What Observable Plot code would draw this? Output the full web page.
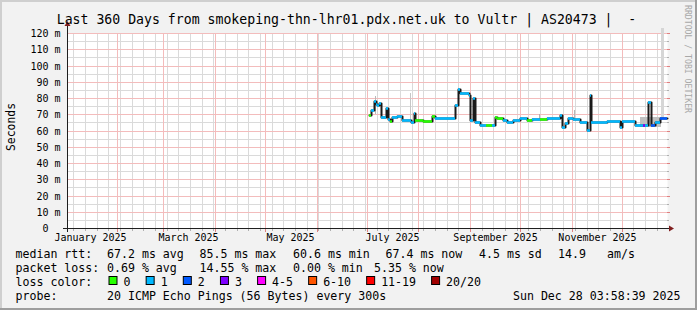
<!DOCTYPE html>
<html><head><meta charset="utf-8">
<script src="https://cdn.jsdelivr.net/npm/d3@7"></script>
<script src="https://cdn.jsdelivr.net/npm/@observablehq/plot@0.6"></script>
<style>
html,body{margin:0;padding:0;background:#f2f2f2;}
#chart svg{display:block;background:#f2f2f2;}
</style></head><body><div id="chart"></div>
<script>
// ---------- data ----------
const title = "Last 360 Days from smokeping-thn-lhr01.pdx.net.uk to Vultr | AS20473 |  -";
const yLabel = "Seconds";
const watermark = "RRDTOOL / TOBI OETIKER";
const timeStart = "2025-01-02T04:00:00Z";
const timeEnd = "2025-12-28T04:00:00Z";
const yTicks = [0,10,20,30,40,50,60,70,80,90,100,110,120];
const xLabelMonths = ["2025-01-16","2025-03-16","2025-05-16","2025-07-16","2025-09-16","2025-11-16"];
const xLabels = ["January 2025","March 2025","May 2025","July 2025","September 2025","November 2025"];

const medDates = [
 "2025-07-02T12:00Z","2025-07-03T18:00Z","2025-07-05T12:00Z","2025-07-06T12:00Z","2025-07-07T06:00Z",
 "2025-07-08T06:00Z","2025-07-09T12:00Z","2025-07-12T18:00Z","2025-07-13T12:00Z","2025-07-15T06:00Z",
 "2025-07-16T06:00Z","2025-07-19T06:00Z","2025-07-22T06:00Z","2025-07-27T12:00Z","2025-07-29T12:00Z",
 "2025-07-30T06:00Z","2025-08-04T00:00Z","2025-08-09T06:00Z","2025-08-11T06:00Z","2025-08-23T06:00Z",
 "2025-08-24T12:00Z","2025-08-25T18:00Z","2025-08-31T06:00Z","2025-09-01T06:00Z","2025-09-02T18:00Z",
 "2025-09-04T06:00Z","2025-09-07T06:00Z","2025-09-10T18:00Z","2025-09-14T06:00Z","2025-09-16T06:00Z",
 "2025-09-17T06:00Z","2025-09-21T00:00Z","2025-09-23T06:00Z","2025-09-27T00:00Z","2025-10-01T06:00Z",
 "2025-10-05T06:00Z","2025-10-08T06:00Z","2025-10-13T06:00Z","2025-10-17T06:00Z","2025-10-25T06:00Z",
 "2025-10-26T06:00Z","2025-10-28T06:00Z","2025-10-30T00:00Z","2025-11-02T00:00Z","2025-11-06T06:00Z",
 "2025-11-10T06:00Z","2025-11-11T18:00Z","2025-11-12T12:00Z","2025-11-22T06:00Z","2025-11-30T06:00Z",
 "2025-12-01T06:00Z","2025-12-09T06:00Z","2025-12-14T00:00Z","2025-12-15T06:00Z","2025-12-17T00:00Z",
 "2025-12-18T18:00Z","2025-12-21T06:00Z","2025-12-24T06:00Z","2025-12-28T04:00Z"];
const medValues = [
 69.6,72.7,78.0,76.4,75.8, 77.2,68.6,73.7,67.2,65.9, 68.6,69.0,66.5,65.5,71.0,
 66.5,65.9,69.0,67.6,76.0, 85.5,83.0,81.8,66.5,79.9, 65.0,63.5,63.5,63.6,68.6,
 67.6,66.5,65.5,66.5,67.6, 66.5,66.9,66.9,67.6,69.6, 62.4,64.5,67.6,66.9,65.5,
 60.6,81.9,65.5,65.9,62.4, 66.0,63.1,63.1,63.1,77.8, 63.6,65.0,67.6,67.4];
const medLoss = [
 0,1,1,1,1, 1,1,1,1,0, 1,1,1,1,1,
 0,0,0,1,1, 1,1,1,1,1, 1,1,0,1,0,
 0,1,1,1,1, 0,1,0,1,1, 1,1,1,1,1,
 1,1,1,1,1, 1,1,3,1,1, 2,1,2,2];

const lossLabels = ["0","1","2","3","4-5","6-10","11-19","20/20"];
const lossColors = ["#26ff00","#00b8ff","#0059ff","#7e00ff","#ff00ff","#ff5500","#ff0000","#a10000"];

const smokeStart = ["2025-07-05T18:00Z","2025-07-27T00:00Z","2025-10-12T06:00Z","2025-11-02T12:00Z","2025-12-12T00:00Z","2025-12-24T14:00Z"];
const smokeEnd   = ["2025-07-06T12:00Z","2025-07-27T18:00Z","2025-10-12T20:00Z","2025-11-03T06:00Z","2025-12-24T12:00Z","2025-12-26T05:00Z"];
const smokeLo = [70, 66, 67, 67, 62.2, 68];
const smokeHi = [81, 83.3, 70, 72.5, 68.5, 123];
const smokeShade = ["#b8b8b8","#c6c6c6","#b0b0b0","#b8b8b8","#c0c0c0","#d6d6d6"];

const rttHead = "median rtt:";
const rttStats = ["67.2 ms avg","85.5 ms max","60.6 ms min","67.4 ms now","4.5 ms sd","14.9","am/s"];
const lossHead = "packet loss:";
const lossStats = ["0.69 % avg","14.55 % max","0.00 % min","5.35 % now"];
const colorHead = "loss color:";
const probeHead = "probe:";
const probeText = "20 ICMP Echo Pings (56 Bytes) every 300s";
const stamp = "Sun Dec 28 03:58:39 2025";

// ---------- layout ----------
const W = 697, H = 310;
const FONT = "'DejaVu Sans Mono', monospace";
const rttX = [107, 199.5, 293, 385.5, 479, 558, 607];
const lossX = [107, 199.5, 293, 374];
const rowY = [258, 272, 286, 300];

// ---------- build ----------
const start = new Date(timeStart), end = new Date(timeEnd);
const med = medDates.map((d, i) => ({date: new Date(d), value: medValues[i], loss: medLoss[i]}));
const segs = med.slice(0, -1).map((d, i) => ({x1: d.date, x2: med[i + 1].date, y: d.value, color: lossColors[d.loss]}));
const smoke = smokeStart.map((d, i) => ({x1: new Date(d), x2: new Date(smokeEnd[i]), y1: smokeLo[i], y2: smokeHi[i], fill: smokeShade[i]}));

const months = d3.utcMonth.range(d3.utcMonth.ceil(start), end);
const weeks = d3.utcMonday.range(start, end).filter(d => d.getUTCDate() !== 1);
const yMinor = d3.range(5, 120, 10);
const yMajor = d3.range(10, 121, 10);
const labelDates = xLabelMonths.map(s => new Date(s + "T00:00:00Z"));
const labelMap = new Map(labelDates.map((d, i) => [+d, xLabels[i]]));

const MINOR = "#dadada", MAJOR = "#f3bcbc", MINOR_TICK = "#b0b0b0", MAJOR_TICK = "#e08080";

const chart = Plot.plot({
  width: W, height: H,
  marginLeft: 67, marginRight: 30, marginTop: 33, marginBottom: 82,
  x: {type: "utc", domain: [start, end], round: true, axis: null},
  y: {domain: [0, 120], round: true, axis: null},
  style: {background: "transparent", fontFamily: FONT, overflow: "visible", color: "#000"},
  marks: [
    Plot.frame({fill: "#ffffff", stroke: "none"}),
    Plot.rect(smoke, {x1: "x1", x2: "x2", y1: "y1", y2: "y2", fill: "fill"}),
    Plot.line(med, {x: "date", y: "value", curve: "step-after", stroke: "#1a1a1a", strokeWidth: 2}),
    Plot.ruleY(segs, {x1: "x1", x2: "x2", y: "y", stroke: "color", strokeWidth: 2.5}),
    Plot.axisY(yTicks, {anchor: "left", tickSize: 0, tickPadding: 7, fontSize: 10, fontFamily: FONT, fill: "#000",
      tickFormat: d => d === 0 ? "0\u00a0\u00a0" : `${d} m`}),
    Plot.axisX(labelDates, {anchor: "bottom", tickSize: 0, tickPadding: 5, fontSize: 10, fontFamily: FONT, fill: "#000",
      tickFormat: d => labelMap.get(+d)})
  ]
});

document.getElementById("chart").appendChild(chart);

const svg = d3.select(chart);
const xs = chart.scale("x"), ys = chart.scale("y");
const X = d => Math.round(xs.apply(d)), Y = v => Math.round(ys.apply(v));
const x0 = X(start), x1 = X(end);
const y0 = Y(0), yTop = Y(120);

// ---------- grid from the Plot scales, placed just above the canvas ----------
const gridNode = document.createElementNS("http://www.w3.org/2000/svg", "g");
const frameEl = chart.querySelector('[aria-label="frame"]');
if (frameEl && frameEl.parentNode === chart) chart.insertBefore(gridNode, frameEl.nextSibling);
else chart.insertBefore(gridNode, chart.firstChild);
const grid = d3.select(gridNode);
const vline = (d, color, ya, yb) => grid.append("line")
  .attr("x1", X(d) + 0.5).attr("x2", X(d) + 0.5).attr("y1", ya).attr("y2", yb).attr("stroke", color);
const hline = (v, color, xa, xb) => grid.append("line")
  .attr("x1", xa).attr("x2", xb).attr("y1", Y(v) + 0.5).attr("y2", Y(v) + 0.5).attr("stroke", color);
weeks.forEach(d => { vline(d, MINOR, yTop, y0); vline(d, MINOR_TICK, y0, y0 + 3); });
yMinor.forEach(v => { hline(v, MINOR, x0, x1); hline(v, MINOR_TICK, x1, x1 + 2); });
months.forEach(d => { vline(d, MAJOR, yTop, y0); vline(d, MAJOR_TICK, y0, y0 + 4); });
yMajor.forEach(v => { hline(v, MAJOR, x0, x1); hline(v, MAJOR_TICK, x1, x1 + 3); });

// ---------- decorations (title, axes lines, legend) ----------
const g = svg.append("g");
g.append("rect").attr("x", 0).attr("y", 0).attr("width", W).attr("height", 2).attr("fill", "#cfcfcf");
g.append("rect").attr("x", 0).attr("y", 0).attr("width", 2).attr("height", H).attr("fill", "#cfcfcf");
g.append("rect").attr("x", 0).attr("y", H - 2).attr("width", W).attr("height", 2).attr("fill", "#9e9e9e");
g.append("rect").attr("x", W - 2).attr("y", 0).attr("width", 2).attr("height", H).attr("fill", "#9e9e9e");

g.append("line").attr("x1", x0 - 4).attr("x2", x1 + 3).attr("y1", y0 + 0.5).attr("y2", y0 + 0.5)
  .attr("stroke", "#1f1f1f");
g.append("line").attr("x1", x0 + 0.5).attr("x2", x0 + 0.5).attr("y1", y0 + 4).attr("y2", yTop - 7)
  .attr("stroke", "#1f1f1f");
g.append("path").attr("d", `M${x1 + 2},${y0 - 2.5}L${x1 + 7},${y0 + 0.5}L${x1 + 2},${y0 + 3.5}Z`).attr("fill", "#801f1f");
g.append("path").attr("d", `M${x0 - 2.5},${yTop - 7}L${x0 + 0.5},${yTop - 12}L${x0 + 3.5},${yTop - 7}Z`).attr("fill", "#801f1f");

const txt = (x, y, s, size, anchor = "start") => g.append("text").attr("x", x).attr("y", y)
  .attr("font-family", FONT).attr("font-size", size).attr("text-anchor", anchor)
  .attr("fill", "#000").style("white-space", "pre").text(s);

txt(346.5, 24, title, 13.2, "middle");
g.append("text").attr("transform", "translate(15,127) rotate(-90)").attr("text-anchor", "middle")
  .attr("font-family", FONT).attr("font-size", 11.4).attr("fill", "#000").text(yLabel);
g.append("text").attr("transform", "translate(684.5,5) rotate(90)").attr("text-anchor", "start")
  .attr("font-family", FONT).attr("font-size", 8.2).attr("fill", "#a8a8a8")
  .attr("textLength", 108).attr("lengthAdjust", "spacing").text(watermark);

const LF = 11.6;
txt(15.5, rowY[0], rttHead, LF);
rttStats.forEach((s, i) => txt(rttX[i], rowY[0], s, LF));
txt(15.5, rowY[1], lossHead, LF);
lossStats.forEach((s, i) => txt(lossX[i], rowY[1], s, LF));
txt(15.5, rowY[2], colorHead, LF);
let sx = 108.5;
lossLabels.forEach((lab, i) => {
  g.append("rect").attr("x", sx + 0.5).attr("y", rowY[2] - 9.5).attr("width", 8).attr("height", 8)
    .attr("fill", lossColors[i]).attr("stroke", "#000").attr("stroke-width", 1);
  txt(sx + 15, rowY[2], lab, LF);
  sx += 30.2 + lab.length * 6.95;
});
txt(15.5, rowY[3], probeHead, LF);
txt(107, rowY[3], probeText, LF);
txt(680.5, rowY[3], stamp, LF, "end");
</script></body></html>
